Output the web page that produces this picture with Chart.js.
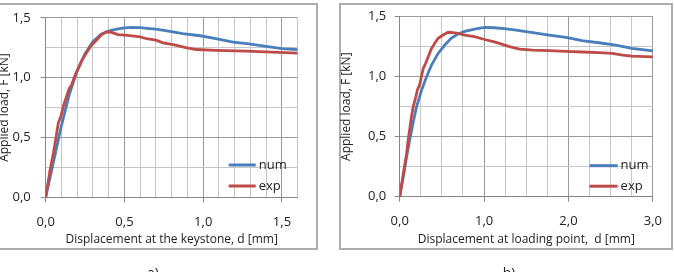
<!DOCTYPE html>
<html><head><meta charset="utf-8">
<script src="https://cdn.jsdelivr.net/npm/chart.js@4/dist/chart.umd.min.js"></script>
<style>
html,body{margin:0;padding:0;background:#fff;overflow:hidden;width:674px;height:272px;position:relative;font-family:'Open Sans',sans-serif}
.frame{position:absolute;border:2px solid #adadad;box-sizing:border-box}
canvas{position:absolute;top:0}
.cap{position:absolute;font-size:14px;line-height:14px;color:#222;top:266px;width:40px;text-align:center}
</style></head><body>
<div class="frame" style="left:-3px;top:3px;width:321px;height:247px"></div>
<div class="frame" style="left:339px;top:3px;width:334px;height:247px"></div>
<canvas id="ca" width="342" height="272" style="left:-5px;width:342px;height:272px"></canvas>
<canvas id="cb" width="337" height="272" style="left:337px;width:337px;height:272px"></canvas>
<div class="cap" style="left:133px">a)</div>
<div class="cap" style="left:489px">b)</div>
<script>
// ---- data: chart a) keystone ----
const aNumX = [0,0.05,0.10,0.15,0.20,0.25,0.30,0.35,0.40,0.45,0.50,0.55,0.60,0.66,0.70,0.77,0.87,0.98,1.08,1.19,1.29,1.40,1.50,1.60];
const aNumY = [0,0.30,0.60,0.86,1.06,1.20,1.30,1.36,1.39,1.405,1.415,1.42,1.418,1.41,1.405,1.39,1.367,1.35,1.325,1.297,1.283,1.261,1.242,1.234];
const aExpX = [0,0.028,0.049,0.063,0.08,0.095,0.112,0.129,0.15,0.165,0.186,0.207,0.228,0.26,0.29,0.32,0.355,0.386,0.418,0.46,0.52,0.6,0.64,0.7,0.745,0.81,0.89,0.955,1.08,1.27,1.48,1.6];
const aExpY = [0,0.23,0.37,0.48,0.62,0.67,0.76,0.83,0.91,0.94,1.02,1.075,1.14,1.21,1.27,1.31,1.36,1.383,1.378,1.36,1.353,1.34,1.325,1.313,1.29,1.275,1.25,1.235,1.228,1.222,1.211,1.204];
// ---- data: chart b) loading point ----
const bNumX = [0,0.043,0.082,0.122,0.161,0.2,0.26,0.318,0.377,0.455,0.534,0.61,0.69,0.77,0.887,1.005,1.12,1.24,1.38,1.575,1.77,1.97,2.16,2.36,2.56,2.75,3.0];
const bNumY = [0,0.167,0.333,0.486,0.625,0.75,0.89,1.0,1.097,1.194,1.264,1.32,1.356,1.378,1.397,1.411,1.408,1.40,1.389,1.367,1.347,1.328,1.30,1.283,1.264,1.236,1.215];
const bExpX = [0,0.043,0.082,0.1,0.122,0.14,0.16,0.19,0.21,0.24,0.26,0.28,0.306,0.338,0.377,0.416,0.455,0.514,0.573,0.632,0.69,0.77,0.887,1.005,1.12,1.18,1.3,1.42,1.575,1.77,1.97,2.16,2.36,2.52,2.64,2.75,3.0];
const bExpY = [0,0.194,0.36,0.47,0.58,0.67,0.75,0.83,0.89,0.94,1.01,1.07,1.11,1.167,1.236,1.278,1.32,1.347,1.37,1.367,1.361,1.347,1.333,1.31,1.29,1.278,1.25,1.23,1.222,1.217,1.211,1.206,1.2,1.194,1.18,1.172,1.165];
// ---- tick labels ----
const yTickLabels = ['0,0','0,5','1,0','1,5'];
const aXTickLabels = ['0,0','0,5','1,0','1,5'];
const bXTickLabels = ['0,0','1,0','2,0','3,0'];
const seriesNames = ['num','exp'];
const seriesColors = ['#4a7ebb','#be4b48'];

const pts = (xs,ys)=>xs.map((x,i)=>({x:x,y:ys[i]}));
const isMul = (v,s)=>Math.abs(v/s-Math.round(v/s))<1e-6;

const legendPlugin = {
  id:'inlegend',
  afterDatasetsDraw(chart,args,o){
    const {ctx,chartArea} = chart;
    chart.data.datasets.forEach((ds,i)=>{
      const x = chartArea.right + o.dx, y = chartArea.bottom + o.dy + i*o.gap;
      ctx.save();
      ctx.strokeStyle = ds.borderColor; ctx.lineWidth = 3;
      ctx.beginPath(); ctx.moveTo(x,y); ctx.lineTo(x+o.len,y); ctx.stroke();
      ctx.fillStyle = '#222'; ctx.font = '13px "Open Sans"'; ctx.textBaseline='middle'; ctx.textAlign='left';
      ctx.fillText(ds.label, x+o.len+o.tg, y);
      ctx.restore();
    });
  }
};

function makeChart(id, p){
  const major = (v,s)=>isMul(v,s);
  const gcol = (c,s)=>(c && c.tick && major(c.tick.value,s)) ? '#9a9a9a' : '#c6c6c6';
  const tcol = (c,s)=>(c && c.tick && major(c.tick.value,s)) ? '#868686' : 'rgba(255,255,255,0)';
  return new Chart(document.getElementById(id), {
    type:'scatter',
    data:{datasets:[
      {label:seriesNames[0], data:pts(p.numX,p.numY), borderColor:seriesColors[0], backgroundColor:seriesColors[0], order:1},
      {label:seriesNames[1], data:pts(p.expX,p.expY), borderColor:seriesColors[1], backgroundColor:seriesColors[1], order:0}
    ].map(d=>Object.assign(d,{showLine:true,pointRadius:0,borderWidth:2.8,tension:0}))},
    plugins:[legendPlugin],
    options:{
      responsive:false, animation:false, devicePixelRatio:1,
      layout:{padding:{left:0,top:16.7,right:p.padRight,bottom:0}},
      plugins:{legend:{display:false},tooltip:{enabled:false},inlegend:p.leg},
      scales:{
        x:{type:'linear',min:0,max:p.xMax,
          afterFit:s=>{s.height=p.xH;},
          ticks:{stepSize:p.xStep,autoSkip:false,maxRotation:0,padding:12,color:'#222',font:{family:'Open Sans',size:13},
            callback:v=>major(v,p.xMajor)?p.xLabels[Math.round(v/p.xMajor)]:''},
          grid:{display:true,drawOnChartArea:true,color:c=>gcol(c,p.xMajor),tickLength:5,
            tickColor:c=>tcol(c,p.xMajor),lineWidth:1},
          border:{display:true,color:'#868686',width:1},
          title:{display:true,text:p.xTitle,color:'#222',font:{family:'Open Sans',size:12},padding:{top:0,bottom:25}}
        },
        y:{type:'linear',min:0,max:1.5,
          afterFit:s=>{s.width=p.yW;},
          ticks:{stepSize:0.25,autoSkip:false,padding:p.yPad,color:'#222',font:{family:'Open Sans',size:13},
            callback:v=>major(v,0.5)?yTickLabels[Math.round(v/0.5)]:''},
          grid:{display:true,drawOnChartArea:true,color:c=>gcol(c,0.5),tickLength:5,
            tickColor:c=>tcol(c,0.5),lineWidth:1},
          border:{display:true,color:'#868686',width:1},
          title:{display:true,text:'Applied load, F [kN]',color:'#222',font:{family:'Open Sans',size:12},padding:{top:p.yTitlePad,bottom:0}}
        }
      }
    }
  });
}

makeChart('ca',{numX:aNumX,numY:aNumY,expX:aExpX,expY:aExpY,xMax:1.6,xStep:0.1,xMajor:0.5,xLabels:aXTickLabels,
  xTitle:'Displacement at the keystone, d [mm]',padRight:39.3,xH:74.7,yW:50.7,yPad:10,yTitlePad:2,
  leg:{dx:-69,dy:-32.3,gap:21,len:27,tg:3}});
makeChart('cb',{numX:bNumX,numY:bNumY,expX:bExpX,expY:bExpY,xMax:3.0,xStep:0.25,xMajor:1.0,xLabels:bXTickLabels,
  xTitle:'Displacement at loading point,  d [mm]',padRight:19.7,xH:75.3,yW:62.7,yPad:8.4,yTitlePad:2.3,
  leg:{dx:-63.3,dy:-31,gap:20.5,len:28,tg:3}});
</script>
</body></html>
